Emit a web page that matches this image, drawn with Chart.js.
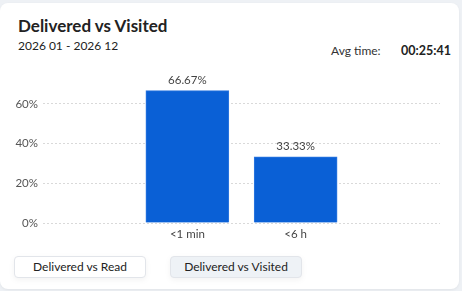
<!DOCTYPE html>
<html>
<head>
<meta charset="utf-8">
<script src="https://cdn.jsdelivr.net/npm/chart.js@4.4.1/dist/chart.umd.min.js"></script>
<style>
  html, body { margin: 0; padding: 0; background: #eef1f5; font-family: Lato, "Open Sans", sans-serif; }
  .card { position: absolute; left: 0; top: 3px; width: 459px; height: 286px; background: #fff; border-radius: 8px; box-shadow: 0 1px 3px rgba(0,0,0,0.06); }
  .title { position: absolute; left: 18px; top: 12px; font-size: 17px; font-weight: 700; color: #222; }
  .sub { position: absolute; left: 18px; top: 35px; font-size: 12px; color: #222; }
  .avg { position: absolute; left: 331px; top: 40px; font-size: 12px; color: #333; }
  .avgv { position: absolute; left: 401px; top: 40px; font-size: 12.5px; font-weight: 700; color: #222; }
  .btn { position: absolute; top: 253px; width: 130px; height: 20px; border: 1px solid #e2e5ea; border-radius: 4px; font-size: 12px; color: #222; text-align: center; line-height: 20px; box-shadow: 0 2px 6px rgba(0,0,0,0.05); }
  #wrap { position: absolute; left: 10px; top: 57px; width: 430px; height: 185px; }
</style>
</head>
<body>
<div class="card">
  <div class="title">Delivered vs Visited</div>
  <div class="sub">2026 01 - 2026 12</div>
  <div class="avg">Avg time:</div>
  <div class="avgv">00:25:41</div>
  <div id="wrap"><canvas id="c"></canvas></div>
  <div class="btn" style="left:14px;background:#fff;">Delivered vs Read</div>
  <div class="btn" style="left:170px;background:#eef2f6;">Delivered vs Visited</div>
</div>
<script>
const categories = ['<1 min', '<6 h'];
const percents = [66.67, 33.33];
const yTicks = [0, 20, 40, 60];

// draws the "66.67%" labels above each bar
const valueLabels = {
  id: 'valueLabels',
  afterDatasetsDraw(chart) {
    const ctx = chart.ctx;
    const meta = chart.getDatasetMeta(0);
    ctx.save();
    ctx.font = '11.5px Lato, sans-serif';
    ctx.fillStyle = '#444';
    ctx.textAlign = 'center';
    ctx.textBaseline = 'bottom';
    meta.data.forEach((bar, i) => {
      ctx.fillText(percents[i].toFixed(2) + '%', bar.x, bar.y - 5);
    });
    ctx.restore();
  }
};

new Chart(document.getElementById('c'), {
  type: 'bar',
  data: {
    datasets: [{
      data: percents.map((v, i) => ({ x: i, y: v })),
      backgroundColor: '#0a60d6',
      borderColor: '#2f78e0',
      borderWidth: 1,
      barThickness: 83
    }]
  },
  options: {
    responsive: true,
    maintainAspectRatio: false,
    animation: false,
    layout: { padding: { top: 24 } },
    plugins: { legend: { display: false }, tooltip: { enabled: false } },
    scales: {
      x: {
        type: 'linear',
        offset: false,
        min: -4 / 3,
        max: 7 / 3,
        grid: { display: false, drawTicks: false },
        border: { display: false },
        afterBuildTicks: s => { s.ticks = categories.map((_, i) => ({ value: i })); },
        afterFit: s => { s.height = 22; },
        ticks: {
          callback: v => categories[v],
          color: '#444',
          padding: 4,
          font: { size: 11.5, family: 'Lato, sans-serif' }
        }
      },
      y: {
        min: 0,
        max: 70,
        grid: { color: '#d9d9d9', drawTicks: false },
        border: { display: false, dash: [2, 2] },
        afterBuildTicks: s => { s.ticks = yTicks.map(v => ({ value: v })); },
        afterFit: s => { s.width = 33; },
        ticks: {
          callback: v => v + '%',
          color: '#555',
          padding: 5,
          font: { size: 11.5, family: 'Lato, sans-serif' }
        }
      }
    }
  },
  plugins: [valueLabels]
});
</script>
</body>
</html>
